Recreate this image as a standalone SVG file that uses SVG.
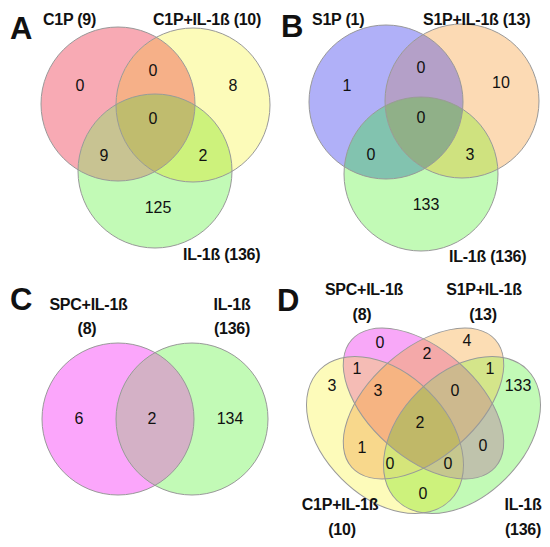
<svg xmlns="http://www.w3.org/2000/svg" width="550" height="547" viewBox="0 0 550 547">
<style>
.lbl{font-family:"Liberation Sans",Arial,sans-serif;font-weight:bold;font-size:16px;letter-spacing:-0.25px;fill:#111}
.big{font-family:"Liberation Sans",Arial,sans-serif;font-weight:bold;font-size:31px;fill:#111}
.num{font-family:"Liberation Sans",Arial,sans-serif;font-size:16px;fill:#111;text-anchor:middle}
.mid{text-anchor:middle}
.edge{fill:none;stroke:#999;stroke-width:1}
</style>
<defs>
<circle id="aR" cx="118" cy="104" r="77"/>
<circle id="aY" cx="193" cy="105" r="77"/>
<circle id="aG" cx="155" cy="171" r="77"/>
<circle id="bB" cx="386" cy="102" r="77"/>
<circle id="bO" cx="462" cy="101" r="77"/>
<circle id="bG" cx="421" cy="174" r="77"/>
<circle id="cM" cx="118" cy="419" r="76"/>
<circle id="cG" cx="192" cy="419" r="76"/>
<ellipse id="dY" cx="385" cy="435" rx="92.3" ry="61.7" transform="rotate(45 385 435)"/>
<ellipse id="dG" cx="462" cy="435" rx="92.3" ry="61.7" transform="rotate(-45 462 435)"/>
<ellipse id="dM" cx="423.5" cy="403.5" rx="96" ry="54" transform="rotate(41.6 423.5 403.5)"/>
<ellipse id="dO" cx="423.5" cy="403.5" rx="96" ry="54" transform="rotate(-41.6 423.5 403.5)"/>
<clipPath id="kaR"><use href="#aR"/></clipPath>
<clipPath id="kaY"><use href="#aY"/></clipPath>
<clipPath id="kbB"><use href="#bB"/></clipPath>
<clipPath id="kbO"><use href="#bO"/></clipPath>
<clipPath id="kcM"><use href="#cM"/></clipPath>
<clipPath id="kdY"><use href="#dY"/></clipPath>
<clipPath id="kdM"><use href="#dM"/></clipPath>
<clipPath id="kdO"><use href="#dO"/></clipPath>
</defs>
<rect width="550" height="547" fill="#fff"/>

<g id="panelA">
<g id="setA-fills">
<use href="#aR" fill="#F8AAB4"/>
<use href="#aY" fill="#FCFBB9"/>
<use href="#aG" fill="#C2FAB6"/>
<use href="#aY" fill="#F6B088" clip-path="url(#kaR)"/>
<use href="#aG" fill="#C8C392" clip-path="url(#kaR)"/>
<use href="#aG" fill="#CDF27C" clip-path="url(#kaY)"/>
<g clip-path="url(#kaR)"><use href="#aG" fill="#C0BC6E" clip-path="url(#kaY)"/></g>
</g>
<g id="setA-edges" class="edge"><use href="#aR"/><use href="#aY"/><use href="#aG"/></g>
<text class="big" x="10" y="39">A</text>
<text class="lbl" x="43" y="25">C1P (9)</text>
<text class="lbl" x="153" y="25">C1P+IL-1ß (10)</text>
<text class="lbl" x="183" y="260">IL-1ß (136)</text>
<text class="num" x="80" y="90.5">0</text>
<text class="num" x="153" y="75.5">0</text>
<text class="num" x="233" y="90.5">8</text>
<text class="num" x="153" y="123.5">0</text>
<text class="num" x="104" y="160.5">9</text>
<text class="num" x="203" y="160.5">2</text>
<text class="num" x="158" y="212.5">125</text>
</g>

<g id="panelB">
<g id="setB-fills">
<use href="#bB" fill="#B0B0F8"/>
<use href="#bO" fill="#FCDAB4"/>
<use href="#bG" fill="#C2FAB6"/>
<use href="#bO" fill="#B4A0C8" clip-path="url(#kbB)"/>
<use href="#bG" fill="#82C3AF" clip-path="url(#kbB)"/>
<use href="#bG" fill="#CFE27F" clip-path="url(#kbO)"/>
<g clip-path="url(#kbB)"><use href="#bG" fill="#90B088" clip-path="url(#kbO)"/></g>
</g>
<g id="setB-edges" class="edge"><use href="#bB"/><use href="#bO"/><use href="#bG"/></g>
<text class="big" x="281" y="37">B</text>
<text class="lbl" x="312" y="25">S1P (1)</text>
<text class="lbl" x="423" y="25">S1P+IL-1ß (13)</text>
<text class="lbl" x="449" y="262">IL-1ß (136)</text>
<text class="num" x="347" y="90.5">1</text>
<text class="num" x="421" y="72.5">0</text>
<text class="num" x="501" y="87.5">10</text>
<text class="num" x="421" y="122.5">0</text>
<text class="num" x="371" y="159.5">0</text>
<text class="num" x="470" y="159.5">3</text>
<text class="num" x="426" y="209.5">133</text>
</g>

<g id="panelC">
<g id="setC-fills">
<use href="#cM" fill="#FBA6FB"/>
<use href="#cG" fill="#C2FAB6"/>
<use href="#cG" fill="#D4B1C6" clip-path="url(#kcM)"/>
</g>
<g id="setC-edges" class="edge"><use href="#cM"/><use href="#cG"/></g>
<text class="big" x="10" y="310">C</text>
<text class="lbl mid" x="88.5" y="310">SPC+IL-1ß</text>
<text class="lbl mid" x="87" y="334">(8)</text>
<text class="lbl mid" x="232" y="310">IL-1ß</text>
<text class="lbl mid" x="232" y="334">(136)</text>
<text class="num" x="79" y="423.5">6</text>
<text class="num" x="152" y="423.5">2</text>
<text class="num" x="230" y="423.5">134</text>
</g>

<g id="panelD">
<g id="setD-fills">
<use href="#dM" fill="#F8A8F8"/>
<use href="#dY" fill="#FDFBBA"/>
<use href="#dO" fill="#FCDDB4"/>
<use href="#dG" fill="#C2FAB6"/>
<use href="#dO" fill="#F4A9A9" clip-path="url(#kdM)"/>
<use href="#dM" fill="#F5BCB5" clip-path="url(#kdY)"/>
<use href="#dO" fill="#F8D88C" clip-path="url(#kdY)"/>
<use href="#dG" fill="#D4E58A" clip-path="url(#kdO)"/>
<use href="#dG" fill="#BFC3AC" clip-path="url(#kdM)"/>
<use href="#dG" fill="#CDF27C" clip-path="url(#kdY)"/>
<g clip-path="url(#kdY)"><use href="#dO" fill="#F6B482" clip-path="url(#kdM)"/></g>
<g clip-path="url(#kdM)"><use href="#dG" fill="#CDB98E" clip-path="url(#kdO)"/></g>
<g clip-path="url(#kdY)"><use href="#dG" fill="#D5E57A" clip-path="url(#kdO)"/></g>
<g clip-path="url(#kdY)"><use href="#dG" fill="#C6C78E" clip-path="url(#kdM)"/></g>
<g clip-path="url(#kdY)"><g clip-path="url(#kdM)"><use href="#dG" fill="#C0B868" clip-path="url(#kdO)"/></g></g>
</g>
<g id="setD-edges" class="edge"><use href="#dM"/><use href="#dY"/><use href="#dO"/><use href="#dG"/></g>
<text class="big" x="277" y="311">D</text>
<text class="lbl mid" x="364" y="295">SPC+IL-1ß</text>
<text class="lbl mid" x="362" y="320">(8)</text>
<text class="lbl mid" x="484" y="295">S1P+IL-1ß</text>
<text class="lbl mid" x="483" y="320">(13)</text>
<text class="lbl mid" x="340" y="510">C1P+IL-1ß</text>
<text class="lbl mid" x="342" y="535">(10)</text>
<text class="lbl mid" x="523" y="510">IL-1ß</text>
<text class="lbl mid" x="523" y="535">(136)</text>
<text class="num" x="380" y="347.5">0</text>
<text class="num" x="467" y="345.5">4</text>
<text class="num" x="427" y="358.5">2</text>
<text class="num" x="357" y="373.5">1</text>
<text class="num" x="490" y="373.5">1</text>
<text class="num" x="332" y="390.5">3</text>
<text class="num" x="518" y="390.5">133</text>
<text class="num" x="378" y="395.5">3</text>
<text class="num" x="455" y="395.5">0</text>
<text class="num" x="420" y="427.5">2</text>
<text class="num" x="362" y="452.5">1</text>
<text class="num" x="483" y="450.5">0</text>
<text class="num" x="390" y="468.5">0</text>
<text class="num" x="448" y="468.5">0</text>
<text class="num" x="423" y="498.5">0</text>
</g>
</svg>
